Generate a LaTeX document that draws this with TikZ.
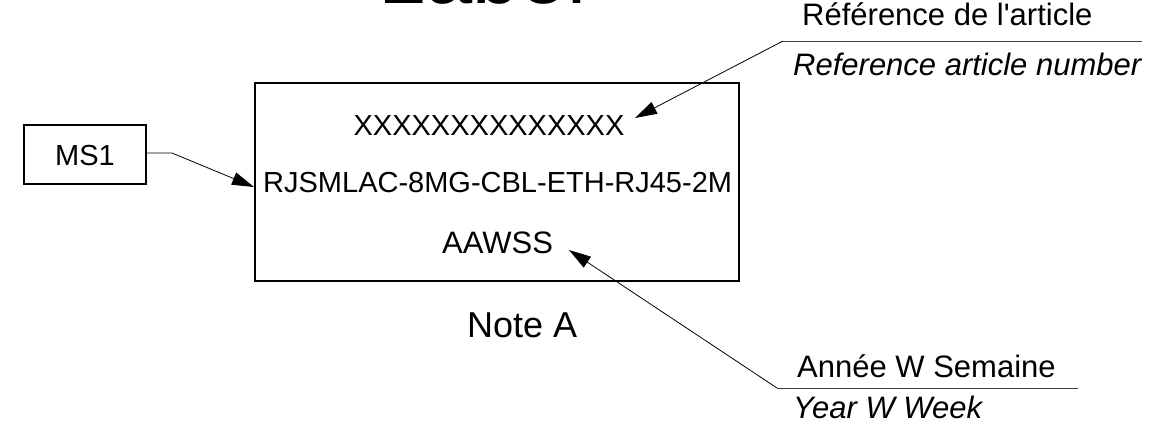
\documentclass[tikz,border=0pt]{standalone}
\usepackage{fontspec}
\setmainfont{Liberation Sans}
\usetikzlibrary{arrows.meta}
\begin{document}
\begin{tikzpicture}[x=1pt,y=-1pt,
  txt/.style={inner sep=0pt,anchor=base west,font=\fontsize{29}{34}\selectfont},
  lbl/.style={inner sep=0pt,anchor=base west,font=\fontsize{31}{36}\selectfont},
  ilbl/.style={lbl,font=\fontsize{31}{36}\selectfont\itshape},
  frame/.style={draw,line width=1.4pt,inner sep=0pt},
  leader/.style={line width=0.8pt},
  uline/.style={line width=0.9pt,draw=black!75},
  tip/.style={-{Triangle[length=22pt,width=13pt]}}]
\useasboundingbox (0,0) rectangle (1175,424);
% title (cut off at the top edge, as in the reference)
\node[inner sep=0pt,anchor=base west,font=\fontsize{85}{90}\selectfont] (title) at (378,3) {Label};
% boxes
\node[frame,minimum width=484pt,minimum height=198pt] (box) at (497,182) {};
\node[frame,minimum width=122pt,minimum height=59pt] (ms) at (85,154.5) {};
\node[txt] (mstxt) at (55,165) {MS1};
% inner texts
\node[txt,anchor=base] (xx) at (489,135) {XXXXXXXXXXXXXX};
\node[txt] (rj) at (263,192) {RJSMLAC-8MG-CBL-ETH-RJ45-2M};
\node[txt,font=\fontsize{31}{36}\selectfont] (aa) at (442,253) {AAWSS};
\node[inner sep=0pt,anchor=base west,font=\fontsize{36}{40}\selectfont] (note) at (467,337) {Note A};
% right labels
\node[lbl] (ref) at (802,25) {Référence de l\textquotesingle article};
\node[ilbl] (refen) at (793,75) {Reference article number};
\node[lbl] (an) at (797,377) {Année W Semaine};
\node[ilbl] (anen) at (793,418) {Year W Week};
% coordinates
\coordinate (msk) at (172,153);
\coordinate (mstip) at (254,187);
\coordinate (refa) at (783,41);
\coordinate (refb) at (1142,41);
\coordinate (reftip) at (635,118);
\coordinate (ana) at (777,388);
\coordinate (anb) at (1078,388);
\coordinate (antip) at (569,250);
% connectors
\draw[leader,tip] (ms.east |- msk) -- (msk) -- (mstip);
\draw[uline] (refa) -- (refb);
\draw[leader,tip] (refa) -- (reftip);
\draw[uline] (ana) -- (anb);
\draw[leader,tip] (ana) -- (antip);
\end{tikzpicture}
\end{document}
